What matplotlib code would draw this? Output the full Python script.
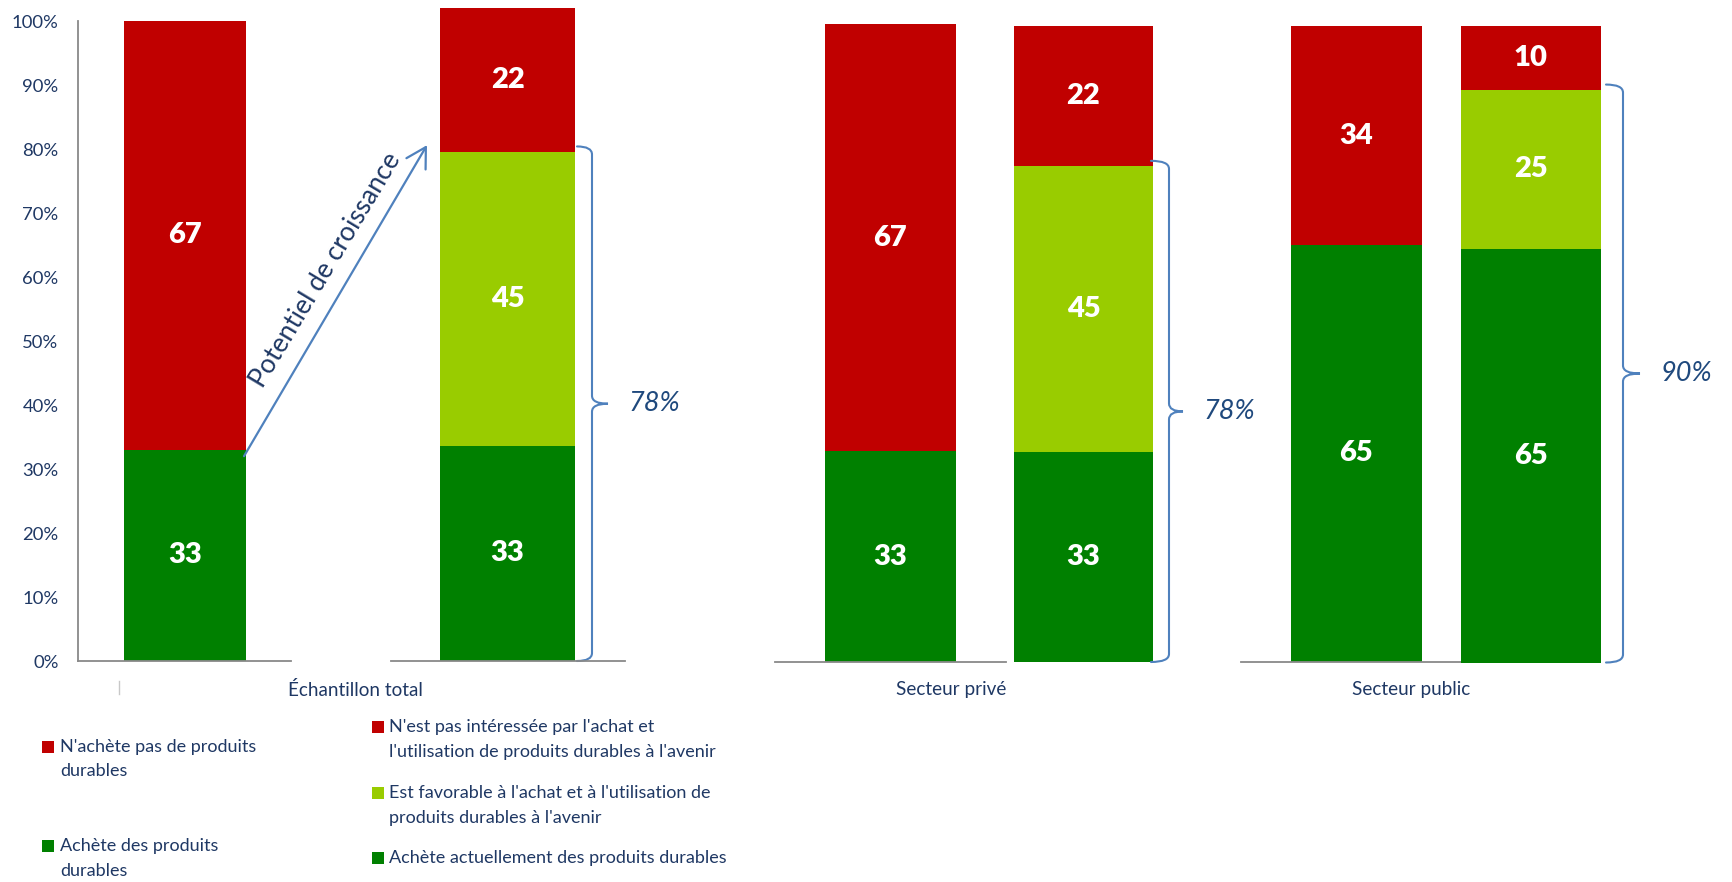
import matplotlib
matplotlib.use("Agg")
import matplotlib.pyplot as plt
from matplotlib.path import Path
from matplotlib.patches import PathPatch, Rectangle, ConnectionPatch
from matplotlib.lines import Line2D

plt.rcParams['font.family'] = ['Lato', 'DejaVu Sans']

# ---- data -------------------------------------------------------------
groups = ["Échantillon total", "Secteur privé", "Secteur public"]

# current purchasing behaviour
achete = [33, 33, 65]
n_achete_pas = [67, 67, 34]

# future intentions
achete_actuellement = [33, 33, 65]
favorable = [45, 45, 25]
pas_interessee = [22, 22, 10]

current_labels = ["N'achète pas de produits\ndurables",
                  "Achète des produits\ndurables"]
future_labels = ["N'est pas intéressée par l'achat et\nl'utilisation de produits durables à l'avenir",
                 "Est favorable à l'achat et à l'utilisation de\nproduits durables à l'avenir",
                 "Achète actuellement des produits durables"]

yticks = [0, 10, 20, 30, 40, 50, 60, 70, 80, 90, 100]
ytick_labels = [f"{v}%" for v in yticks]
growth_label = "Potentiel de croissance"

# ---- style ------------------------------------------------------------
RED = "#C00000"
GREEN = "#008000"
LIGHT = "#99CC00"
NAVY = "#1F3864"
BLUE = "#4F81BD"
BRACE_TXT = "#1F497D"
AXIS = "#898989"

W, H = 1733, 882
fig = plt.figure(figsize=(W / 100, H / 100), dpi=100)


def fx(x):
    return x / W


def fy(y):
    return 1 - y / H


def panel(left, right, y0, y100, spine=True):
    ax = fig.add_axes([fx(left), fy(y0), (right - left) / W, (y0 - y100) / H])
    ax.set_xlim(left, right)
    ax.set_ylim(0, 100)
    ax.patch.set_alpha(0)
    for s in ax.spines.values():
        s.set_visible(False)
    if spine:
        ax.spines['bottom'].set_visible(True)
        ax.spines['bottom'].set_color(AXIS)
        ax.spines['bottom'].set_linewidth(1.3)
    ax.set_xticks([])
    ax.set_yticks([])
    return ax


def stacked(ax, bl, br, values, colors):
    c = (bl + br) / 2
    w = br - bl
    bottom = 0
    for v, col in zip(values, colors):
        ax.bar(c, v, width=w, bottom=bottom, color=col, linewidth=0)
        ax.text(c, bottom + v / 2, f"{v}", ha='center', va='center',
                color='white', fontsize=21, fontweight='heavy')
        bottom += v


def brace(ax, xr, top, offs, ppu):
    x0, x1, x2 = xr + offs[0], xr + offs[1], xr + offs[2]
    r = 8 / ppu
    mid = top / 2
    bot = 0
    verts = [(x0, top), (x1, top), (x1, top - r),
             (x1, mid + r), (x1, mid), (x2, mid),
             (x1, mid), (x1, mid - r),
             (x1, bot + r), (x1, bot), (x0, bot)]
    codes = [Path.MOVETO, Path.CURVE3, Path.CURVE3,
             Path.LINETO, Path.CURVE3, Path.CURVE3,
             Path.CURVE3, Path.CURVE3,
             Path.LINETO, Path.CURVE3, Path.CURVE3]
    ax.add_patch(PathPatch(Path(verts, codes), fill=False, edgecolor=BLUE,
                           linewidth=1.5, clip_on=False, capstyle='round'))
    return x2, mid


# layout: axes box (left, right, y of 0 %, y of 100 %) and bar span, in pixels
cur_layout = [(78, 291, 661, 21, 124, 246),
              (775, 1006, 662, 24, 825, 956),
              (1241, 1471, 662, 20, 1291, 1422)]
fut_layout = [(391, 625, 661, 8, 440, 575, True),
              (1006, 1200, 662, 26, 1014, 1153, False),
              (1455, 1700, 662.5, 26, 1461, 1601, False)]
brace_offsets = [(2, 17, 33), (-2, 16, 30), (5, 22, 39)]
brace_label_gap = 21
group_label_x = [355, 951, 1411]

cur_axes, fut_axes = [], []
for i in range(3):
    l, r, y0, y100, bl, br = cur_layout[i]
    ax = panel(l, r, y0, y100)
    stacked(ax, bl, br, [achete[i], n_achete_pas[i]], [GREEN, RED])
    cur_axes.append(ax)

    l, r, y0, y100, bl, br, sp = fut_layout[i]
    axf = panel(l, r, y0, y100, spine=sp)
    stacked(axf, bl, br, [achete_actuellement[i], favorable[i], pas_interessee[i]],
            [GREEN, LIGHT, RED])
    fut_axes.append(axf)

    total = achete_actuellement[i] + favorable[i]
    ppu = (y0 - y100) / 100
    tx, ty = brace(axf, br, total + 0.8, brace_offsets[i], ppu)
    axf.text(tx + brace_label_gap, ty, f"{total}%", ha='left', va='center',
             fontsize=19.5, style='italic', color=BRACE_TXT, clip_on=False)

    fig.text(fx(group_label_x[i]), fy(690), groups[i], ha='center', va='center',
             fontsize=13.6, color=NAVY)

# y axis of the first panel
ax0 = cur_axes[0]
ax0.spines['left'].set_visible(True)
ax0.spines['left'].set_color(AXIS)
ax0.spines['left'].set_linewidth(1.3)
ax0.set_yticks(yticks)
ax0.set_yticklabels(ytick_labels)
ax0.tick_params(axis='y', length=0, pad=14, labelsize=13.3, labelcolor=NAVY)

# small category tick under the first panel
fig.add_artist(Line2D([fx(119), fx(119)], [fy(681), fy(694)], color="#C8C8C8",
                      linewidth=1.0, transform=fig.transFigure))

# growth arrow between the two "Échantillon total" bars
bar1_right = cur_layout[0][5]
bar2_left = fut_layout[0][4]
target = achete_actuellement[0] + favorable[0] + 1
arrow = ConnectionPatch(xyA=(bar1_right - 2, achete[0] - 1), coordsA=cur_axes[0].transData,
                        xyB=(bar2_left - 13, target), coordsB=fut_axes[0].transData,
                        arrowstyle="->,head_length=0.7,head_width=0.4",
                        mutation_scale=20, color=BLUE, linewidth=1.6)
fig.add_artist(arrow)
fig.text(fx(326), fy(270), growth_label, rotation=59, rotation_mode='anchor',
         ha='center', va='center', fontsize=19, color=NAVY)

# legends


def legend(x_sq, x_txt, rows, labels, colors):
    for yc, lab, col in zip(rows, labels, colors):
        fig.add_artist(Rectangle((fx(x_sq), fy(yc + 6)), 12 / W, 12 / H,
                                 facecolor=col, edgecolor='none',
                                 transform=fig.transFigure))
        for k, line in enumerate(lab.split("\n")):
            fig.text(fx(x_txt), fy(yc + 24.5 * k), line, ha='left', va='center',
                     fontsize=13, color=NAVY)


legend(42, 60, [747, 846], current_labels, [RED, GREEN])
legend(372, 389, [727, 793, 858], future_labels, [RED, LIGHT, GREEN])

fig.savefig("out.png", dpi=100)
